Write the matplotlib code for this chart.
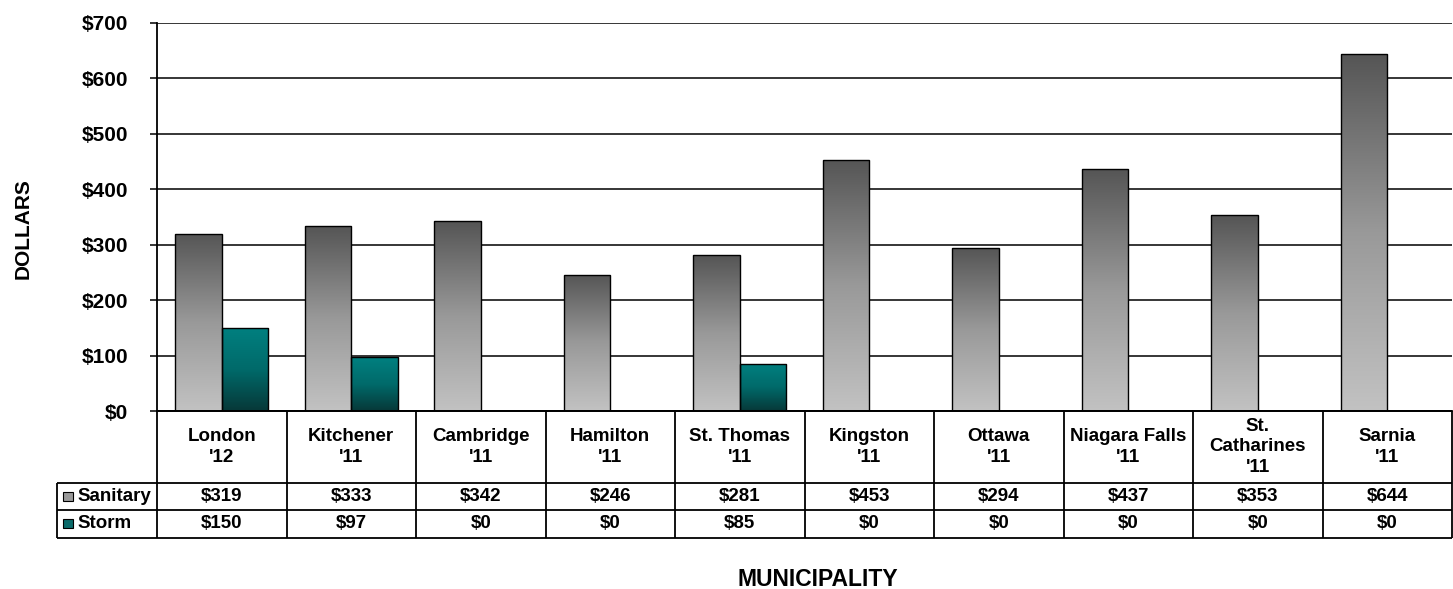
import numpy as np
import matplotlib.pyplot as plt
from matplotlib.colors import LinearSegmentedColormap
from matplotlib.patches import Rectangle

plt.rcParams['font.family'] = ['Liberation Sans', 'DejaVu Sans']
plt.rcParams['font.weight'] = 'bold'

cities = ["London\n'12", "Kitchener\n'11", "Cambridge\n'11", "Hamilton\n'11",
          "St. Thomas\n'11", "Kingston\n'11", "Ottawa\n'11", "Niagara Falls\n'11",
          "St.\nCatharines\n'11", "Sarnia\n'11"]
sanitary = [319, 333, 342, 246, 281, 453, 294, 437, 353, 644]
storm = [150, 97, 0, 0, 85, 0, 0, 0, 0, 0]
series = ['Sanitary', 'Storm']

W, H = 1453, 589
fig = plt.figure(figsize=(W / 100, H / 100), dpi=100)


def px(x0, y0, x1, y1):
    # pixel box -> figure rect
    return [x0 / W, 1 - y1 / H, (x1 - x0) / W, (y1 - y0) / H]


ax = fig.add_axes(px(157, 22.7, 1452, 411.2))

gray = LinearSegmentedColormap.from_list('g', ['#c2c2c2', '#999999', '#555555'])
teal = LinearSegmentedColormap.from_list('t', ['#073838', '#006a6a', '#008080'])
grad = np.linspace(0, 1, 256).reshape(-1, 1)

x = np.arange(len(cities))
w = 0.358
for vals, off, cm in [(sanitary, -w / 2, gray), (storm, w / 2, teal)]:
    bars = ax.bar(x + off, vals, w, facecolor='none', edgecolor='black', lw=1, zorder=3)
    for b, v in zip(bars, vals):
        if v == 0:
            b.set_visible(False)
            continue
        im = ax.imshow(grad, cmap=cm, origin='lower', aspect='auto', zorder=2,
                       extent=(b.get_x(), b.get_x() + b.get_width(), 0, v))
        im.set_clip_path(b)

ax.set_xlim(-0.5, len(cities) - 0.5)
ax.set_ylim(0, 700)
ax.set_yticks(range(0, 701, 100))
ax.set_yticklabels([f'${v}' for v in range(0, 701, 100)])
ax.set_xticks([])
ax.yaxis.grid(True, color='black', lw=1.1)
ax.set_axisbelow(True)
for s in ['top', 'right']:
    ax.spines[s].set_visible(False)
ax.spines['left'].set_linewidth(1.3)
ax.spines['bottom'].set_linewidth(1.3)
ax.tick_params(axis='y', length=5, width=1.1, pad=16, labelsize=15)

# data table under the chart
tax = fig.add_axes(px(157, 411.2, 1452, 537.5))
tax.set_xlim(-0.5, len(cities) - 0.5)
tax.set_ylim(126.3, 0)
tax.axis('off')
leg_x = -0.5 - 100 / 129.5
rows = [0, 71.5, 99, 126.3]
kw = dict(color='black', lw=1.3, clip_on=False, solid_capstyle='butt')
tax.plot([-0.5, len(cities) - 0.5], [0, 0], **kw)
for r in rows[1:]:
    tax.plot([leg_x, len(cities) - 0.5], [r, r], **kw)
for i in range(len(cities) + 1):
    tax.plot([i - 0.5, i - 0.5], [0, rows[-1]], **kw)
tax.plot([leg_x, leg_x], [rows[1], rows[-1]], **kw)

fs = 13.5
for i, c in enumerate(cities):
    tax.text(i, (rows[0] + rows[1]) / 2, c, ha='center', va='center', fontsize=fs,
             linespacing=1.3)
    tax.text(i, (rows[1] + rows[2]) / 2, f'${sanitary[i]}', ha='center', va='center', fontsize=fs)
    tax.text(i, (rows[2] + rows[3]) / 2, f'${storm[i]}', ha='center', va='center', fontsize=fs)

for k, (name, col) in enumerate(zip(series, ['#9a9a9a', '#0a6a6a'])):
    yc = (rows[k + 1] + rows[k + 2]) / 2
    tax.add_patch(Rectangle((leg_x + 0.045, yc - 4.5), 0.08, 9, facecolor=col,
                            edgecolor='black', lw=0.8, clip_on=False))
    tax.text(leg_x + 0.16, yc, name, ha='left', va='center', fontsize=fs)

fig.text(818 / W, 1 - 579 / H, 'MUNICIPALITY', ha='center', va='center', fontsize=16.5)
fig.text(23 / W, 1 - 229 / H, 'DOLLARS', ha='center', va='center', fontsize=15, rotation=90)

fig.savefig('out.png', dpi=100)
